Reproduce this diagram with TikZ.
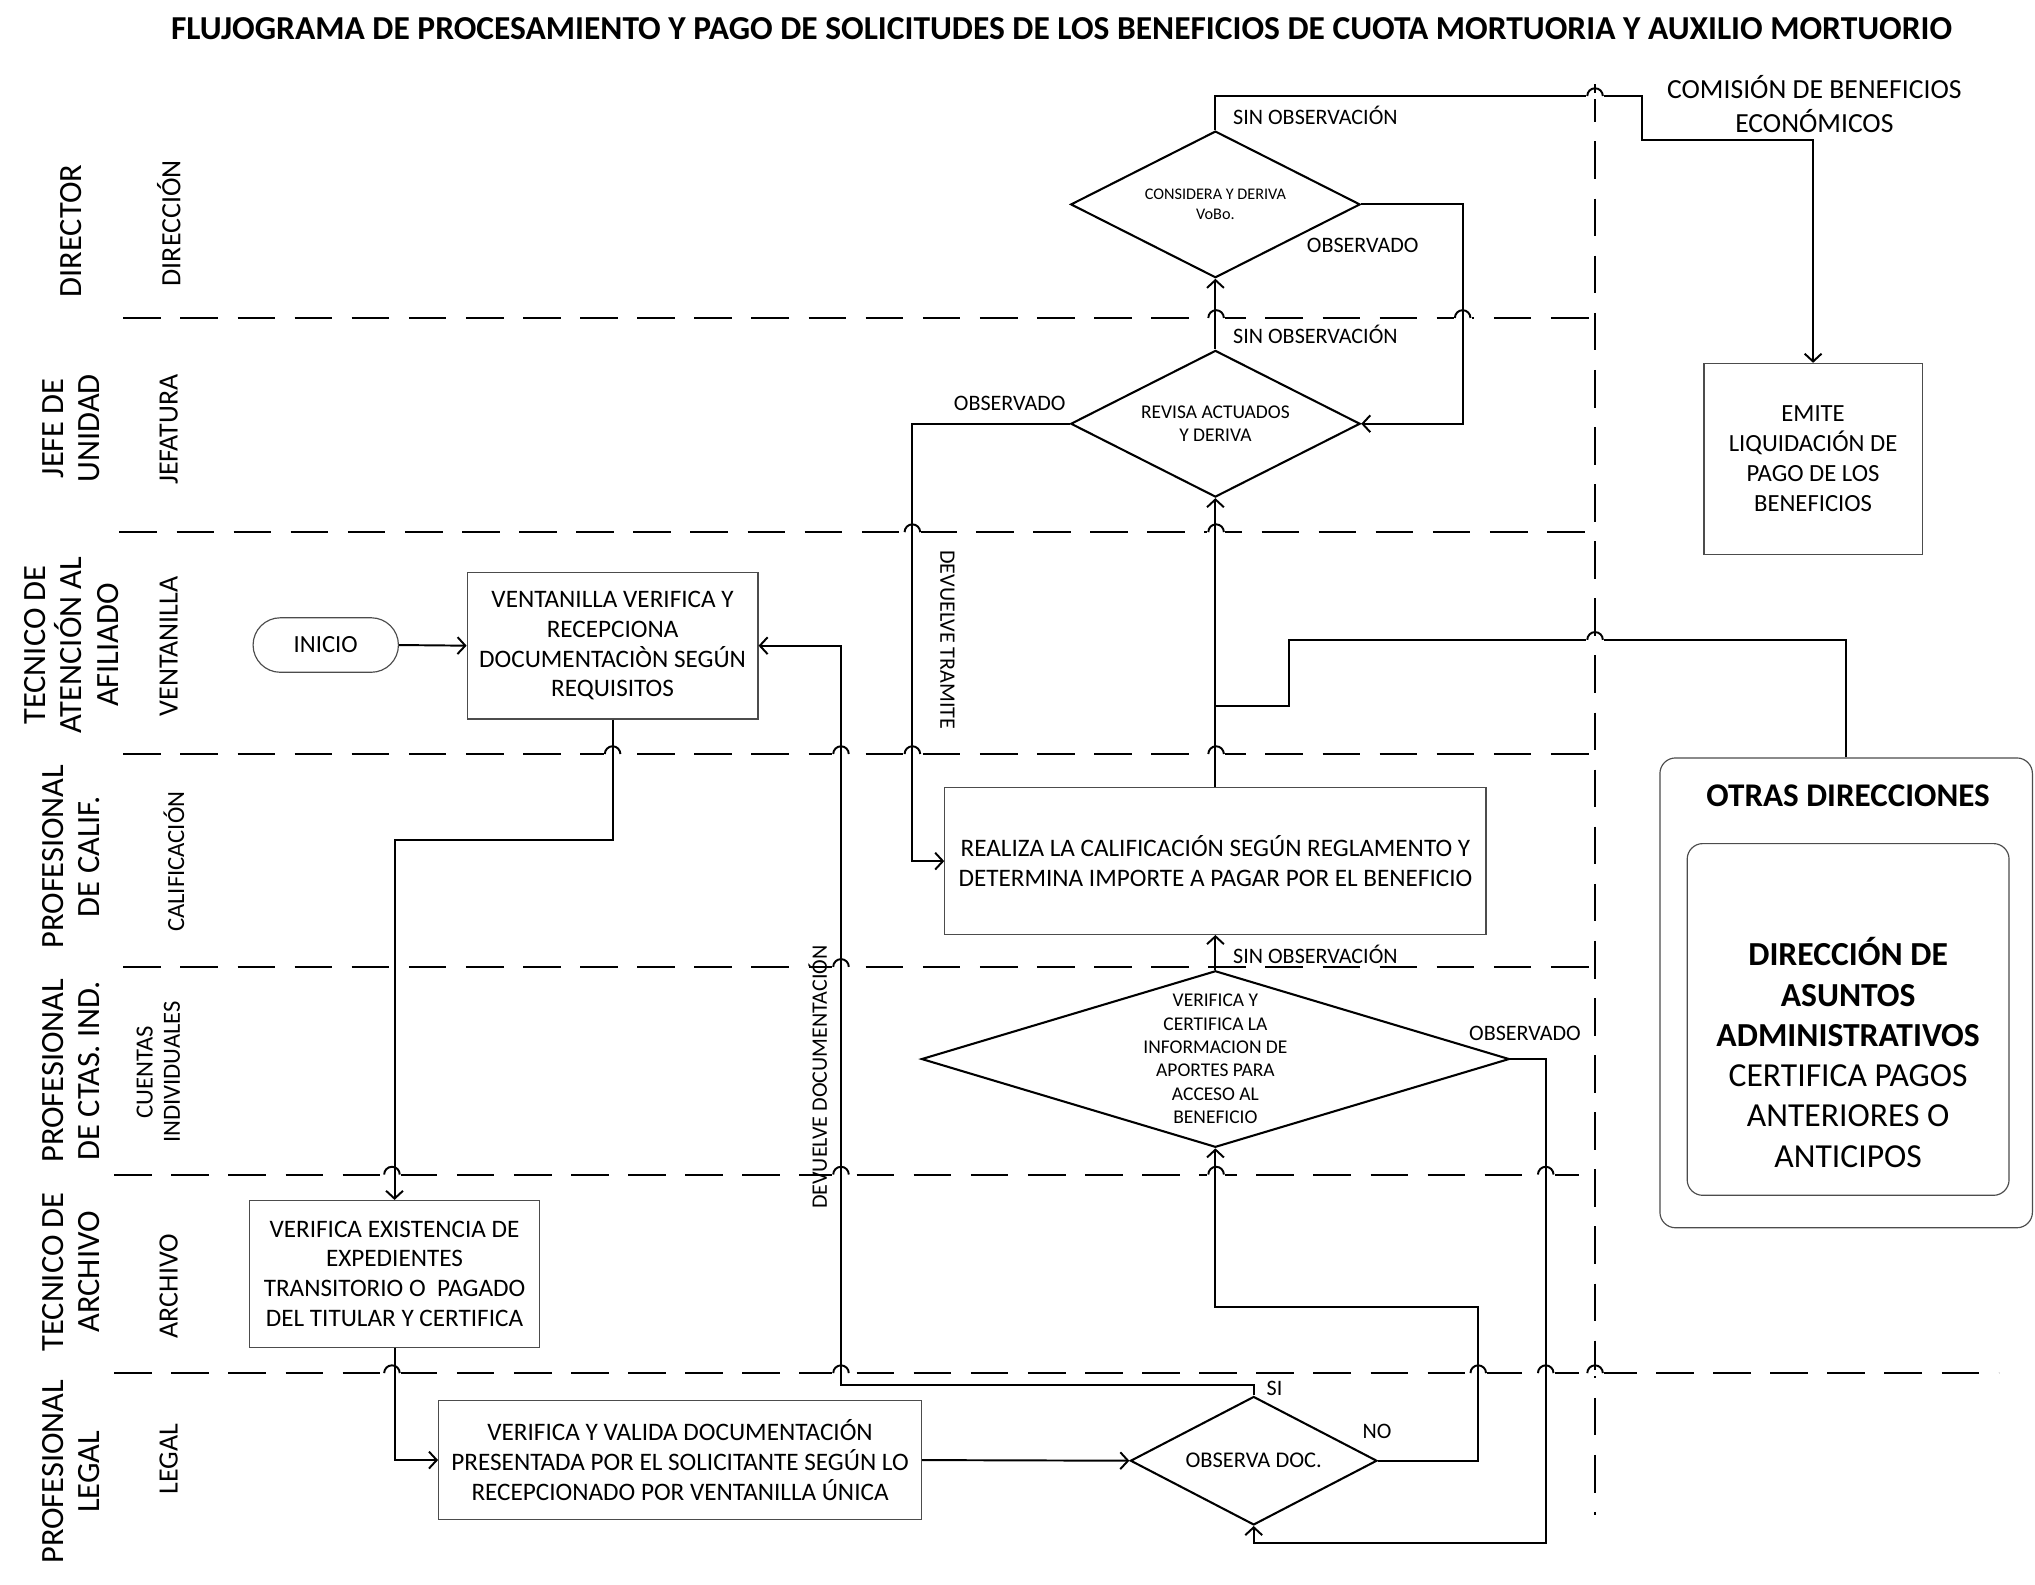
\documentclass[tikz,border=0pt]{standalone}
\usepackage{fontspec}
\setmainfont{Carlito}
\usetikzlibrary{arrows.meta,positioning,shapes.geometric,calc}
\tikzset{
	>={Straight Barb[length=6pt,width=13pt]},
	proceso/.style={
		rectangle,
		draw=black!70, line width=0.9pt,
		align=center,
		inner sep=2pt,
		font=\fontsize{19.4}{23}\selectfont
	},
	decision/.style={
		diamond,
		draw, line width=1.6pt,
		aspect=2,
		inner sep=0pt,
		align=center,
		font=\fontsize{15}{18}\selectfont
	},
	terminal/.style={
		rectangle,
		rounded corners=21pt,
		draw=black!70, line width=0.9pt,
		minimum width=112pt, minimum height=42pt,
		font=\fontsize{19}{23}\selectfont
	},
	grupo/.style={rectangle, rounded corners=12pt, draw=black!70, line width=0.9pt},
	carril/.style={line width=1.6pt, dash pattern=on 29pt off 15pt},
	salto/.style={line width=1.5pt},
	flecha/.style={draw, line width=1.5pt, ->},
	linea/.style={draw, line width=1.5pt},
	etiqueta/.style={font=\fontsize{17}{20}\selectfont, inner sep=0pt},
	actor/.style={rotate=90, align=center, font=\fontsize{25}{28}\selectfont},
	area/.style={rotate=90, align=center, font=\fontsize{21.5}{24}\selectfont},
	areachica/.style={rotate=90, align=center, font=\fontsize{19}{21}\selectfont},
}

\begin{document}
\begin{tikzpicture}[x=1pt,y=-1pt]
	\useasboundingbox (0,0) rectangle (1568,1221);
	\node[font=\bfseries\fontsize{25.8}{30}\selectfont] (titulo) at (818,22)
		{FLUJOGRAMA DE PROCESAMIENTO Y PAGO DE SOLICITUDES DE LOS BENEFICIOS DE CUOTA MORTUORIA Y AUXILIO MORTUORIO};
	% carriles
	\foreach \y/\a/\b in {245/95/1228,410/92/1225,581/95/1228,745/95/1228,905/88/1230,1058/88/1540}
		\draw[carril] (\a,\y) -- (\b,\y);
	\draw[carril] (1229,65) -- (1229,1167);
	% saltos de linea en los cruces
	\foreach \x/\y in {937/245,1127/245,703/410,937/410,472/581,648/581,703/581,937/581,648/745,
		302/905,648/905,937/905,1191/905,302/1058,648/1058,1139/1058,1191/1058,1229/1058} {
		\fill[white] (\x-7,\y-2.5) rectangle (\x+7,\y+2.5);
		\draw[salto] (\x-6,\y) arc[start angle=180, end angle=0, radius=6pt];
	}
	\foreach \y/\txt in {178/DIRECTOR,330/{JEFE DE\\UNIDAD},497/{TECNICO DE\\ATENCIÓN AL\\AFILIADO},
		660/{PROFESIONAL\\DE CALIF.},825/{PROFESIONAL\\DE CTAS. IND.},980/{TECNICO DE\\ARCHIVO},1134/{PROFESIONAL\\LEGAL}}
		\node[actor] (actor\y) at (55,\y) {\txt};
	\foreach \y/\txt in {172/DIRECCIÓN,331/JEFATURA,498/VENTANILLA,991/ARCHIVO,1124/LEGAL}
		\node[area] (area\y) at (130,\y) {\txt};
	\node[areachica] (area664) at (134,664) {CALIFICACIÓN};
	\node[areachica] (area826) at (122,826) {CUENTAS\\INDIVIDUALES};

	% procesos
	\node[terminal] (inicio) at (251,497) {INICIO};
	\node[proceso, minimum width=224pt, minimum height=113pt] (ventanilla) at (472,497.5)
		{VENTANILLA VERIFICA Y\\RECEPCIONA\\DOCUMENTACIÒN SEGÚN\\REQUISITOS};
	\node[proceso, minimum width=224pt, minimum height=113pt] (archivo) at (304,981.5)
		{VERIFICA EXISTENCIA DE\\EXPEDIENTES\\TRANSITORIO O \ PAGADO\\DEL TITULAR Y CERTIFICA};
	\node[proceso, minimum width=372pt, minimum height=92pt] (legal) at (524,1125)
		{VERIFICA Y VALIDA DOCUMENTACIÓN\\PRESENTADA POR EL SOLICITANTE SEGÚN LO\\RECEPCIONADO POR VENTANILLA ÚNICA};
	\node[decision, minimum width=190pt, minimum height=99pt, font=\fontsize{17.3}{20}\selectfont] (observa) at (966,1125.5)
		{OBSERVA DOC.};
	\node[decision, aspect=3.3, inner sep=-4pt, minimum width=453pt, minimum height=136pt] (verifica) at (936.5,816)
		{VERIFICA Y\\CERTIFICA LA\\INFORMACION DE\\APORTES PARA\\ACCESO AL\\BENEFICIO};
	\node[proceso, minimum width=417pt, minimum height=113pt] (calif) at (936.5,663.5)
		{REALIZA LA CALIFICACIÓN SEGÚN REGLAMENTO Y\\DETERMINA IMPORTE A PAGAR POR EL BENEFICIO};
	\node[decision, minimum width=223pt, minimum height=113pt] (revisa) at (936.5,326.5)
		{REVISA ACTUADOS\\Y DERIVA};
	\node[decision, minimum width=223pt, minimum height=113pt, font=\fontsize{12.5}{15}\selectfont] (considera) at (936.5,157.5)
		{CONSIDERA Y DERIVA\\VoBo.};
	\node[proceso, minimum width=168pt, minimum height=147pt, font=\fontsize{19}{23}\selectfont] (emite) at (1397,353.5)
		{EMITE\\LIQUIDACIÓN DE\\PAGO DE LOS\\BENEFICIOS};
	\node[align=center, font=\fontsize{21.3}{26}\selectfont] (comision) at (1398,80)
		{COMISIÓN DE BENEFICIOS\\ECONÓMICOS};
	\node[grupo, minimum width=287pt, minimum height=362pt] (otras) at (1422.5,765) {};
	\node[font=\bfseries\fontsize{25.5}{29}\selectfont] (otrastit) at (1424,613) {OTRAS DIRECCIONES};
	\node[grupo, minimum width=248pt, minimum height=271pt] (asuntos) at (1424,785.5) {};
	\node[align=center, font=\fontsize{25.9}{31}\selectfont] (asuntostxt) at (1424,811)
		{\textbf{DIRECCIÓN DE}\\\textbf{ASUNTOS}\\\textbf{ADMINISTRATIVOS}\\CERTIFICA PAGOS\\ANTERIORES O\\ANTICIPOS};

	% conectores
	\draw[flecha] (inicio.east) -- (ventanilla.west);
	\draw[flecha] (ventanilla.south) -- ++(0,93) -| (archivo.north);
	\draw[flecha] (archivo.south) |- (legal.west);
	\draw[flecha] (legal.east) -- (observa.west);
	\draw[flecha] (observa.north) -- ++(0,-8) -| (648,497.5) -- (ventanilla.east);
	\draw[flecha] (observa.east) -- (1139,1125.5) -- (1139,1007) -| (verifica.south);
	\draw[flecha] (verifica.east) -- (1191,816) -- (1191,1189) -| (observa.south);
	\draw[flecha] (verifica.north) -- (calif.south);
	\draw[flecha] (calif.north) -- (revisa.south);
	\coordinate (union) at (936.5,544);
	\draw[linea] (otras.north) |- (993,493) |- (union);
	\draw[flecha] (revisa.west) -- (703,326.5) |- (calif.west);
	\draw[flecha] (revisa.north) -- (considera.south);
	\draw[flecha] (considera.east) -- (1127,157.5) |- (revisa.east);
	\draw[flecha] (considera.north) -- (936.5,74) -- (1265,74) -- (1265,108) -| (emite.north);
	% saltos de los conectores sobre la linea vertical
	\foreach \y in {74,493} {
		\fill[white] (1222,\y-2.5) rectangle (1236,\y+2.5);
		\draw[salto] (1223,\y) arc[start angle=180, end angle=0, radius=6pt];
	}

	% etiquetas
	\node[etiqueta, anchor=west] (sinobs1) at (950,89) {SIN OBSERVACIÓN};
	\node[etiqueta, anchor=west] (sinobs2) at (950,258) {SIN OBSERVACIÓN};
	\node[etiqueta, anchor=west] (sinobs3) at (950,735) {SIN OBSERVACIÓN};
	\node[etiqueta] (obs1) at (1050,189) {OBSERVADO};
	\node[etiqueta] (obs2) at (778,311) {OBSERVADO};
	\node[etiqueta] (obs3) at (1175,796) {OBSERVADO};
	\node[etiqueta] (si) at (982,1070) {SI};
	\node[etiqueta] (no) at (1061,1103) {NO};
	\node[etiqueta, rotate=-90] (devtramite) at (730,493) {DEVUELVE TRAMITE};
	\node[etiqueta, rotate=90] (devdoc) at (630,830) {DEVUELVE DOCUMENTACIÓN};
\end{tikzpicture}
\end{document}
